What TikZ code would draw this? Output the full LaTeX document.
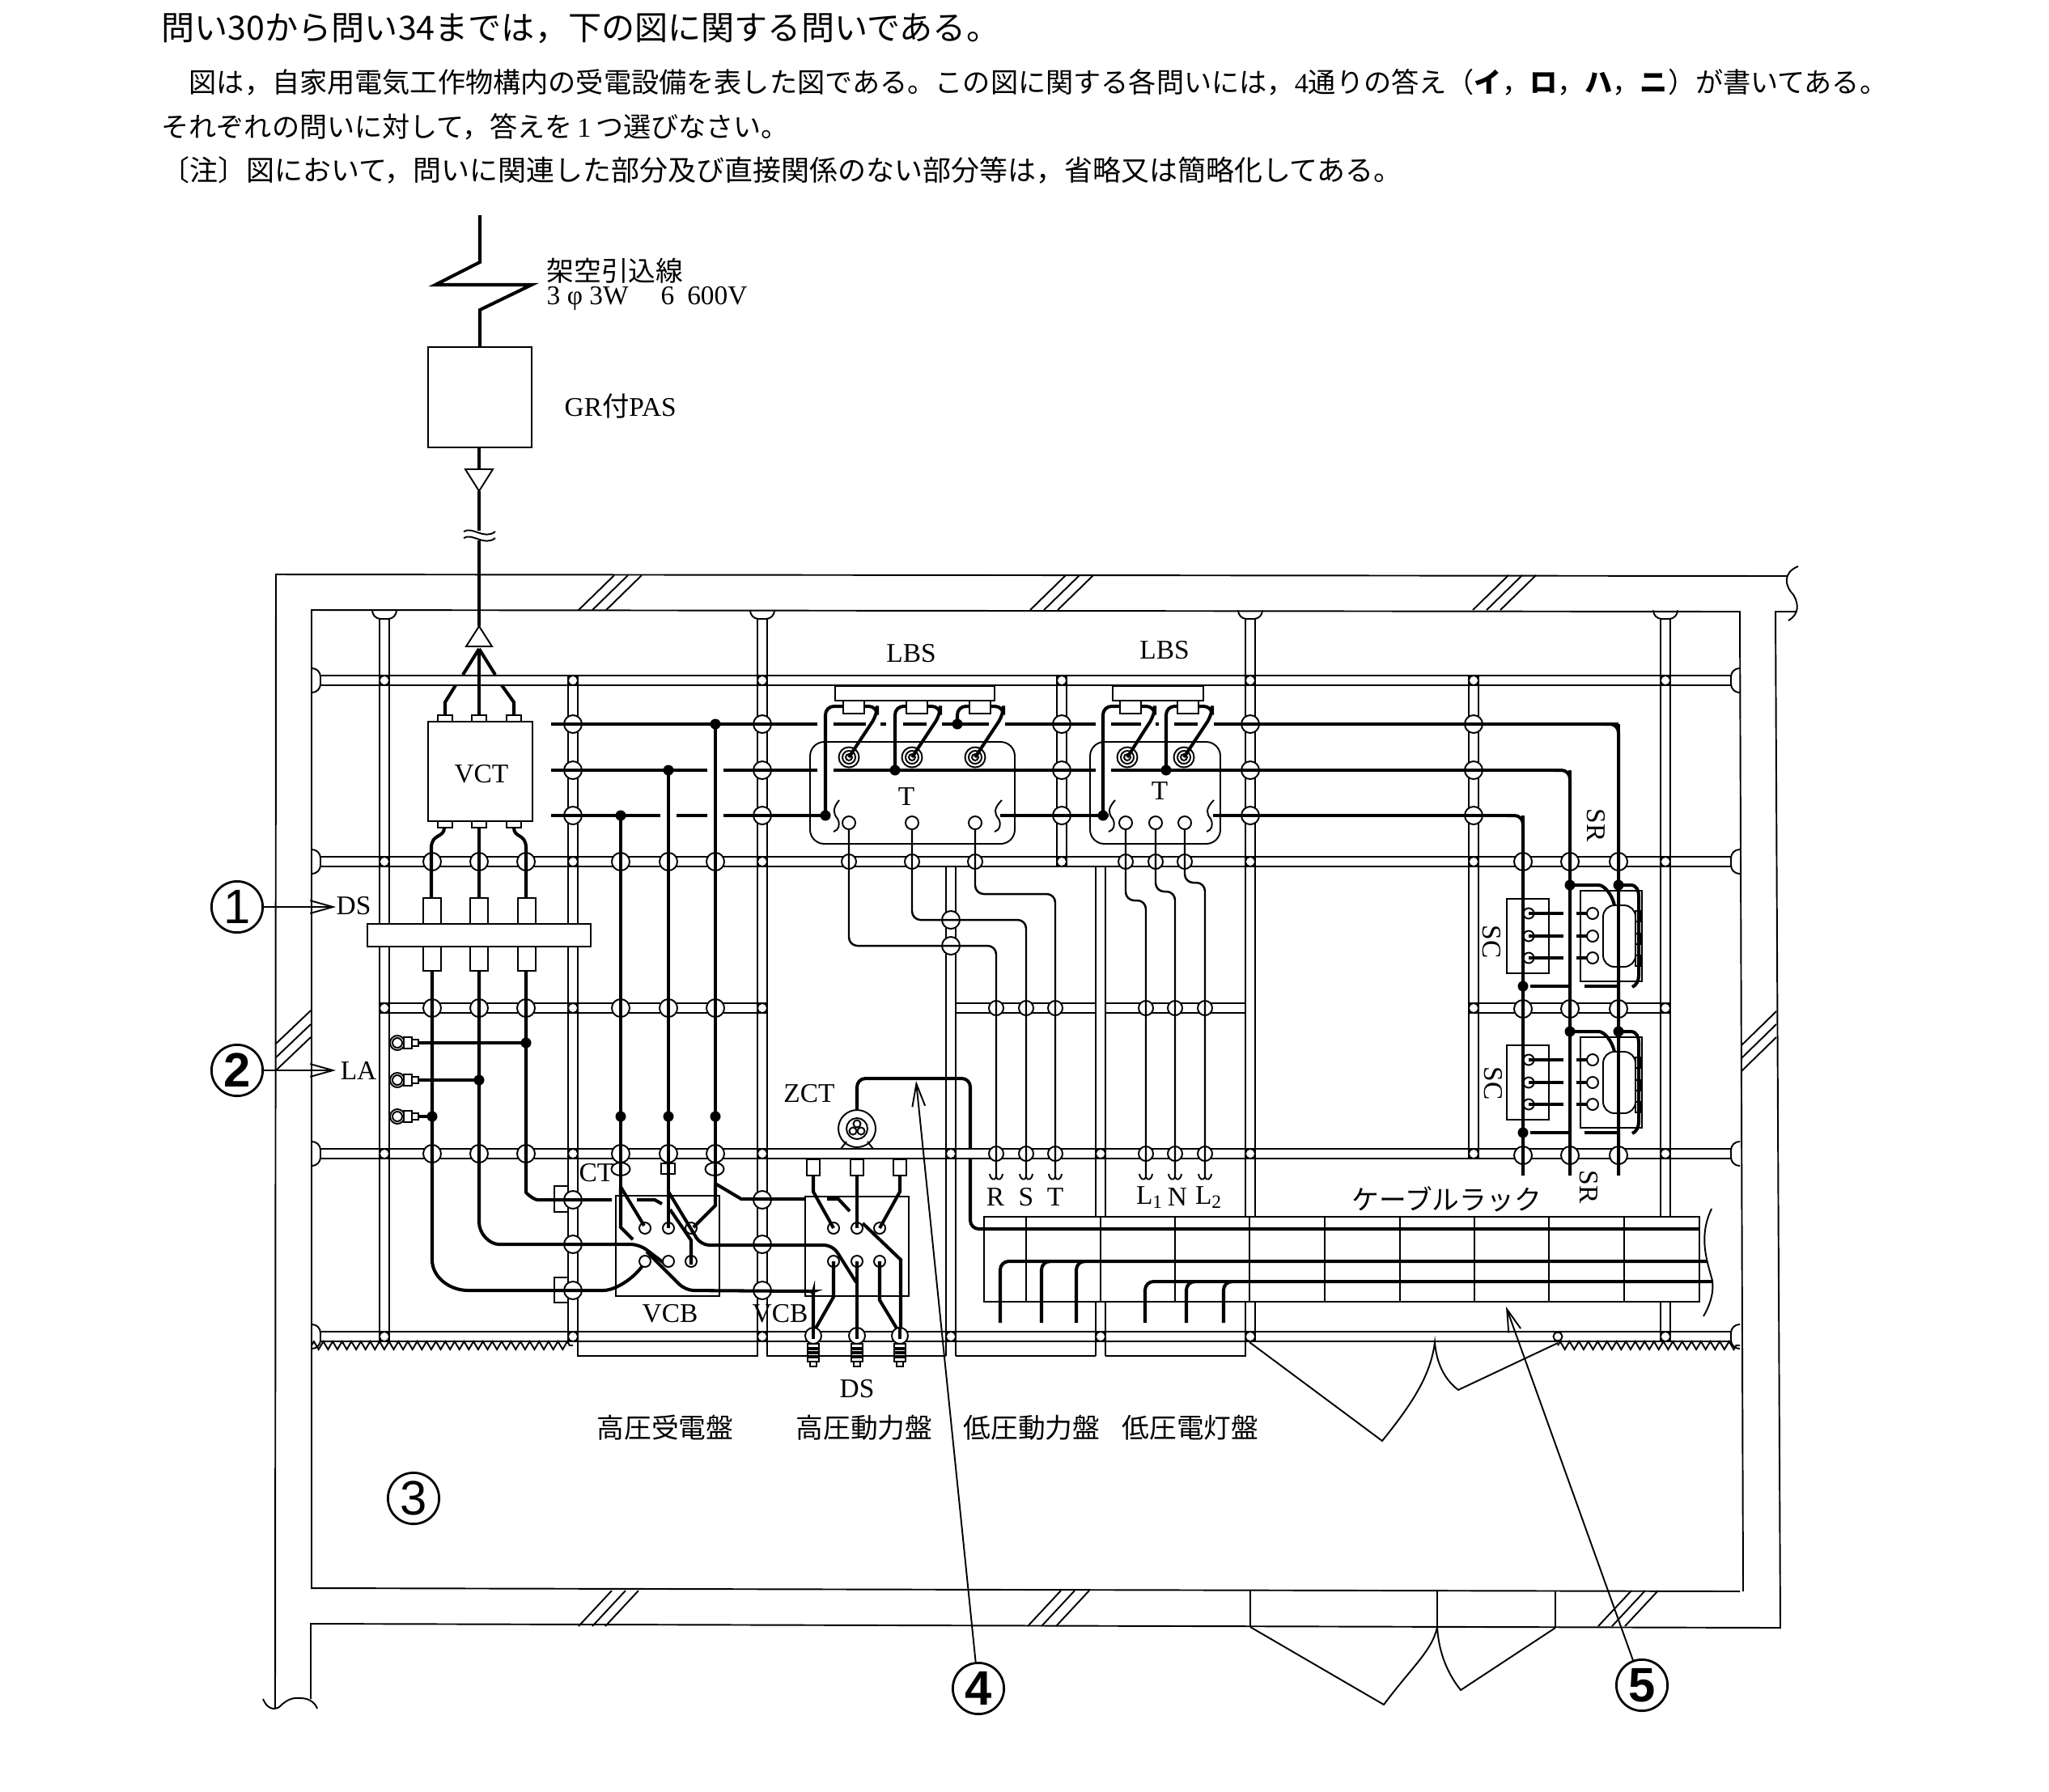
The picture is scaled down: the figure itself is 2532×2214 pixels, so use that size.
\documentclass[tikz,border=0pt]{standalone}
\usepackage{fontspec}
\setmainfont{Liberation Serif}
\newfontfamily\cjk{Noto Sans CJK JP}
\newfontfamily\numf{Liberation Sans}
\usetikzlibrary{arrows.meta,decorations.pathmorphing}
\tikzstyle{thinline}=[line width=.55pt]
\tikzstyle{pipe}=[line width=.55pt]
\tikzstyle{wire}=[line width=1.15pt]
\tikzstyle{rwire}=[wire,rounded corners=3pt]
\tikzstyle{lvwire}=[line width=.7pt,rounded corners=3pt]
\tikzstyle{cross}=[thinline,fill=white]
\tikzstyle{dev}=[thinline,fill=white]
\tikzstyle{lbl}=[inner sep=0pt,font=\fontsize{9.5}{11}\selectfont]
\tikzstyle{jp}=[inner sep=0pt,anchor=west,font=\cjk\fontsize{9.6}{11}\selectfont]
\tikzstyle{nummark}=[draw,circle,line width=.8pt,minimum size=18pt,inner sep=0pt,font=\numf\fontsize{17}{18}\selectfont]
\tikzstyle{leader}=[thinline,-{Straight Barb[length=8pt,width=4.5pt]}]
\newcommand{\hpipe}[3]{\draw[pipe] (#2,#1-6) -- (#3,#1-6) (#2,#1+6) -- (#3,#1+6);}
\newcommand{\vpipe}[3]{\draw[pipe] (#1-6,#2) -- (#1-6,#3) (#1+6,#2) -- (#1+6,#3);}
\newcommand{\sleeve}[2]{\fill (#1-6,#2-6) rectangle (#1+6,#2+6); \fill[white] (#1,#2) circle[radius=5];}
\newcommand{\junction}[2]{\fill (#1,#2) circle[radius=6.5];}
\newcommand{\pin}[2]{\draw[dev] (#1,#2) circle[radius=7];}
\begin{document}
\begin{tikzpicture}[x=.1mm,y=-.1mm]
\useasboundingbox (0,0) rectangle (2532,2214);

% header text
\node[jp,font=\cjk\fontsize{11.7}{13}\selectfont] (title) at (199,35) {問い30から問い34までは，下の図に関する問いである。};
\node[jp,font=\cjk\fontsize{9.72}{11}\selectfont] (lineone) at (233,102) {図は，自家用電気工作物構内の受電設備を表した図である。この図に関する各問いには，{\rmfamily 4}通りの答え（{\bfseries イ}，{\bfseries ロ}，{\bfseries ハ}，{\bfseries ニ}）が書いてある。};
\node[jp,font=\cjk\fontsize{9.7}{11}\selectfont] (linetwo) at (199,157) {それぞれの問いに対して，答えを\,{\rmfamily 1}\,つ選びなさい。};
\node[jp,font=\cjk\fontsize{9.95}{11}\selectfont] (linethree) at (199,210) {〔注〕図において，問いに関連した部分及び直接関係のない部分等は，省略又は簡略化してある。};

% walls
\draw[thinline] (340,2112) -- (341,710) -- (2208,712);
\draw[thinline] (2150,1967) -- (385,1963) -- (385,754) -- (2150,756) -- (2154,1967);
\draw[thinline] (2220,756) -- (2194,756) -- (2200,2012) -- (384,2007) -- (384,2100);
\draw[thinline] (2222,700) .. controls (2202,708) and (2206,725) .. (2216,735) .. controls (2224,748) and (2222,760) .. (2210,767); % break
\draw[thinline] (325,2100) .. controls (330,2112) and (338,2114) .. (345,2110) .. controls (355,2100) and (362,2098) .. (372,2099) .. controls (382,2099) and (390,2105) .. (392,2112);
\foreach \x in {715,732,749,1273,1290,1307,1820,1837,1854}{ % wall hatching
  \draw[thinline] (\x,754) -- (\x+44,711);
}
\foreach \y in {1290,1307,1323}{
  \draw[thinline] (341,\y) -- (384,\y-41);
}
\foreach \y in {1292,1308,1324}{
  \draw[thinline] (2152,\y) -- (2195,\y-42);
}
\foreach \x in {715,732,748,1270,1287,1305,1975,1992,2008}{
  \draw[thinline] (\x,2010) -- (\x+41,1966);
}

% doors
\draw[thinline] (1545,1966) -- (1545,2011) (1776,1966) -- (1776,2011) (1922,1967) -- (1922,2012);
\draw[thinline] (1545,2011) -- (1710,2107) .. controls (1745,2060) and (1770,2040) .. (1776,2011)
  .. controls (1778,2045) and (1790,2070) .. (1805,2089) -- (1922,2012);
\draw[thinline] (1544,1659) -- (1708,1781) .. controls (1745,1735) and (1768,1700) .. (1773,1659)
  .. controls (1775,1685) and (1785,1705) .. (1802,1718) -- (1925,1660);

% conduit rack
\foreach \y in {841,1065,1426,1652}{
  \hpipe{\y}{395}{2139}
  \foreach \x/\dir in {385/1,2150/-1}{
    \draw[thinline,rounded corners=3pt] (\x,\y-15) -- (\x+\dir*11,\y-15) -- (\x+\dir*11,\y+15) -- (\x,\y+15);
  }
}
\hpipe{1246}{469}{948}
\hpipe{1246}{1181}{1354}
\hpipe{1246}{1366}{1539}
\hpipe{1246}{1815}{2064}
\foreach \x in {475,942,1545,2058}{
  \vpipe{\x}{765}{1658}
  \draw[thinline,rounded corners=3pt] (\x-15,755) -- (\x-15,765) -- (\x+15,765) -- (\x+15,755);
}
\vpipe{708}{835}{1658}
\vpipe{1312}{835}{1071}
\vpipe{1821}{835}{1432}
\vpipe{1175}{1071}{1676}
\vpipe{1360}{1071}{1676}
\foreach \x in {475,708,942,1312,1545,1821,2058}{
  \sleeve{\x}{841}
  \sleeve{\x}{1065}
}
\foreach \x in {475,708,942,1821,2058}{
  \sleeve{\x}{1246}
}
\foreach \x in {475,708,942,1175,1360,1545,1821,2058}{
  \sleeve{\x}{1426}
}
\foreach \x in {475,708,942,1175,1360,1545,2058}{
  \sleeve{\x}{1652}
}
\draw[dev] (1925,1652) circle[radius=5.5];
\draw[thinline,decorate,decoration={zigzag,amplitude=1.4pt,segment length=3.3pt}] (385,1663) -- (708,1663);
\draw[thinline,decorate,decoration={zigzag,amplitude=1.4pt,segment length=3.3pt}] (1925,1663) -- (2150,1663);

% panel bases
\draw[thinline] (714,1658) -- (714,1676) -- (936,1676) -- (936,1658);
\draw[thinline] (948,1658) -- (948,1676) -- (1169,1676);
\draw[thinline] (1181,1676) -- (1354,1676) (1366,1676) -- (1539,1676) -- (1539,1658);
\draw[thinline] (685,1466) rectangle (702,1498) (685,1579) rectangle (702,1610);

% cable rack
\draw[thinline,fill=white] (1216,1504) rectangle (2100,1609);
\foreach \x in {1268,1360,1452,1544,1637,1730,1822,1914,2007}{
  \draw[thinline] (\x,1504) -- (\x,1609);
}
\draw[thinline] (2115,1494) .. controls (2098,1530) and (2110,1560) .. (2116,1583) .. controls (2118,1600) and (2112,1615) .. (2105,1627);

% wire crossings on the conduits
\foreach \x in {534,592,650,767,826,884}{
  \foreach \y in {1065,1246,1426}{
    \draw[cross] (\x,\y) circle[radius=11];
  }
}
\foreach \x in {708,942,1312,1545,1821}{
  \foreach \y in {895,952,1008}{
    \draw[cross] (\x,\y) circle[radius=11];
  }
}
\foreach \x in {708,942}{
  \foreach \y in {1483,1538,1595}{
    \draw[cross] (\x,\y) circle[radius=11];
  }
}
\foreach \x in {1882,1940,2000}{
  \foreach \y in {1065,1247,1428}{
    \draw[cross] (\x,\y) circle[radius=11];
  }
}
\foreach \x in {1049,1127,1205,1391,1428,1464}{
  \draw[cross] (\x,1065) circle[radius=9];
}
\foreach \x in {1231,1268,1304,1416,1452,1489}{
  \draw[cross] (\x,1246) circle[radius=9];
  \draw[cross] (\x,1426) circle[radius=9];
}
\draw[cross] (1175,1137) circle[radius=11];
\draw[cross] (1175,1169) circle[radius=11];

% incoming line and PAS
\draw[wire] (593,266) -- (593,324) -- (538,352) -- (657,352) -- (593,383) -- (593,429);
\draw[thinline] (529,429) rectangle (657,553);
\draw[wire] (592,553) -- (592,580);
\draw[dev] (575,580) -- (609,580) -- (592,607) -- cycle;
\draw[wire] (592,607) -- (592,656) (592,668) -- (592,774);
\draw[thinline] (573,657) .. controls (584,650) and (598,668) .. (612,657);
\draw[thinline] (573,665) .. controls (584,658) and (598,676) .. (612,665);
\draw[dev] (592,774) -- (608,799) -- (576,799) -- cycle;
\draw[wire] (592,802) -- (592,884);
\draw[wire] (592,802) -- (572,834) (563,847) -- (550,868) -- (550,884);
\draw[wire] (592,802) -- (612,834) (620,847) -- (635,868) -- (635,884);

% VCT
\draw[dev] (529,892) rectangle (658,1015);
\foreach \x in {550,592,635}{
  \draw[dev] (\x-9,884) rectangle (\x+9,892);
  \draw[dev] (\x-9,1015) rectangle (\x+9,1023);
}
\draw[wire] (549,1023) .. controls (549,1036) and (533,1030) .. (533,1048) -- (533,1110);
\draw[wire] (592,1023) -- (592,1110);
\draw[wire] (635,1023) .. controls (635,1036) and (650,1030) .. (650,1048) -- (650,1110);

% DS
\foreach \x in {534,592,651}{
  \draw[dev] (\x-11,1110) rectangle (\x+11,1200);
}
\draw[dev] (454,1142) rectangle (730,1170);

% LA
\foreach \y in {1289,1335,1380}{
  \draw[dev] (491,\y) circle[radius=9];
  \draw[thinline] (491,\y) circle[radius=6];
  \draw[dev] (499,\y-7) rectangle (509,\y+7);
  \draw[dev] (509,\y-4) rectangle (517,\y+4);
}
\draw[wire] (517,1289) -- (650,1289) (517,1335) -- (592,1335) (517,1380) -- (534,1380);
\junction{650}{1289}
\junction{592}{1335}
\junction{534}{1380}

% feeders to VCB
\draw[rwire] (534,1200) -- (534,1547) .. controls (534,1578) and (555,1595) .. (589,1595) -- (735,1595) .. controls (760,1595) and (785,1580) .. (797,1560);
\draw[rwire] (592,1200) -- (592,1500) .. controls (592,1525) and (605,1538) .. (627,1538) -- (790,1538) -- (823,1563);
\draw[rwire] (650,1200) -- (650,1463) .. controls (650,1475) and (660,1483) .. (675,1483) -- (756,1483);
\draw[wire] (787,1483) -- (809,1483) -- (818,1488);
\draw[wire] (767,1008) -- (767,1467);
\draw[wire] (826,952) -- (826,1473);
\draw[wire] (884,895) -- (884,1463);
\draw[wire] (681,895) -- (2000,895);
\foreach \x in {767,826,884}{
  \junction{\x}{1380}
}

% CT
\draw[dev] (767,1445) ellipse[x radius=11.5,y radius=8];
\draw[dev] (817,1438) rectangle (834,1451);
\draw[dev] (883,1445) ellipse[x radius=11.5,y radius=8];
\draw[wire] (767,1430) -- (767,1467) (826,1430) -- (826,1473) (884,1430) -- (884,1463);

% VCB
\draw[thinline] (761,1478) rectangle (889,1602);
\draw[thinline] (995,1479) rectangle (1123,1602);
\foreach \x in {797,826,854,1030,1059,1087}{
  \pin{\x}{1518}
  \pin{\x}{1559}
}
\draw[wire] (767,1467) -- (796,1515);
\draw[wire] (767,1467) -- (767,1517) -- (782,1532);
\draw[wire] (826,1470) -- (826,1518);
\draw[wire] (828,1495) -- (854,1533) -- (854,1563);
\draw[rwire] (826,1473) -- (866,1539) -- (1029,1539) -- (1058,1585);
\draw[wire] (884,1463) -- (884,1490) -- (857,1517);
\draw[wire] (884,1463) -- (916,1482) -- (995,1482);
\draw[wire] (1022,1482) -- (1036,1482) -- (1050,1497);
\draw[rwire] (799,1547) -- (847,1595) -- (995,1596) .. controls (1002,1596) and (1005,1600) .. (1005,1607) -- (1005,1650);

% ZCT with its feeders
\draw[dev] (1059,1395) circle[radius=23];
\draw[thinline] (1059,1395) circle[radius=13];
\foreach \x/\y in {1059/1389,1054/1398,1064/1398}{
  \draw[thinline] (\x,\y) circle[radius=4.5];
}
\draw[thinline] (1039,1420) -- (1046,1411) (1079,1420) -- (1072,1411);
\foreach \x in {1005,1059,1112}{
  \draw[dev] (\x-8,1433) rectangle (\x+8,1453);
}
\draw[rwire] (1059,1372) -- (1059,1333) -- (1199,1333) -- (1199,1420);
\draw[rwire] (1199,1432) -- (1199,1519) -- (2100,1519);
\draw[wire] (1005,1453) -- (1005,1473) -- (1030,1518);
\draw[wire] (1059,1453) -- (1059,1518);
\draw[wire] (1112,1453) -- (1112,1473) -- (1087,1518);
\draw[wire] (1066,1512) -- (1113,1557) -- (1113,1650);
\draw[wire] (1030,1559) -- (1030,1603) -- (1005,1647);
\draw[wire] (1059,1559) -- (1059,1650);
\draw[wire] (1087,1559) -- (1087,1607) -- (1113,1650);

% DS under the panel
\foreach \x in {1005,1059,1112}{
  \draw[dev] (\x,1651) circle[radius=10];
  \draw[dev] (\x-7,1661) rectangle (\x+7,1683);
  \draw[dev] (\x-4,1683) rectangle (\x+4,1689);
  \foreach \y in {1667,1672,1677}{
    \draw[wire] (\x-7,\y) -- (\x+7,\y);
  }
}
\draw[wire] (1005,1640) -- (1005,1655) (1059,1640) -- (1059,1655) (1112,1640) -- (1112,1655);

% transformers
\draw[thinline,rounded corners=5pt] (1001,917) rectangle (1254,1043);
\draw[thinline,rounded corners=5pt] (1347,917) rectangle (1508,1043);
\draw[dev] (1032,848) rectangle (1229,866);
\draw[dev] (1375,848) rectangle (1487,866);
\foreach \x in {1042,1120,1198,1384,1455}{
  \draw[dev] (\x,866) rectangle (\x+26,882);
}
\foreach \x in {1049,1127,1205,1393,1463}{
  \draw[dev] (\x,936) circle[radius=12.5];
  \draw[thinline] (\x,936) circle[radius=8];
  \draw[thinline] (\x,936) circle[radius=4];
}
\foreach \x in {1049,1127,1205,1391,1428,1464}{
  \draw[thinline] (\x,1024) -- (\x,1065);
  \draw[thinline,fill=white] (\x,1017) circle[radius=8];
}
\foreach \x/\xb in {1037/1030,1238/1229,1378/1370,1500/1491}{ % bus break marks
  \draw[thinline] (\x,989) .. controls (\xb-2,1000) and (\xb,1006) .. (\xb+5,1012) .. controls (\xb+9,1020) and (\xb+6,1026) .. (\xb,1028);
}

% three-phase bus: white gaps over the full line drawn above
\foreach \a/\b in {1010/1030,1070/1088,1095/1116,1145/1164,1222/1242,1354/1373,1410/1428,1432/1451,1480/1500}{
  \fill[white] (\a,891) rectangle (\b,899);
}
\draw[wire] (681,952) -- (874,952) (894,952) -- (1010,952) (1030,952) -- (1354,952) (1373,952) -- (1930,952);
\draw[wire] (681,1008) -- (816,1008) (836,1008) -- (874,1008) (894,1008) -- (1026,1008) (1236,1008) -- (1370,1008) (1499,1008) -- (1872,1008);
\draw[rwire] (1920,952) -- (1940,952) -- (1940,1453);
\draw[rwire] (1862,1008) -- (1882,1008) -- (1882,1453);
\draw[rwire] (1980,895) -- (2000,895) -- (2000,1453);
\foreach \x/\y in {884/895,826/952,767/1008,1106/952,1183/895,1020/1008,1363/1008,1441/952}{
  \junction{\x}{\y}
}

% LBS connections
\foreach \xa/\xb/\yb in {1020/1042/1008,1106/1120/952,1183/1198/895,1363/1384/1008,1441/1455/952}{
  \draw[rwire] (\xa,\yb) -- (\xa,873) -- (\xb,873);
}
\foreach \xc/\xd in {1067/1049,1145/1127,1223/1205,1410/1393,1481/1463}{
  \draw[rwire] (\xc,873) -- (\xc+17,873) -- (\xc+17,883) -- (\xd,936);
}

% low voltage lines
\foreach \x/\ya/\xb in {1049/1169/1231,1127/1137/1268,1205/1105/1304,1391/1113/1416,1428/1102/1452,1464/1091/1489}{
  \draw[lvwire] (\x,1025) -- (\x,\ya) -- (\xb,\ya) -- (\xb,1455);
  \draw[thinline] (\xb-8,1451) .. controls (\xb-7,1458) and (\xb-2,1460) .. (\xb,1455) .. controls (\xb+2,1460) and (\xb+7,1458) .. (\xb+8,1451);
}

% SC and SR
\foreach \dy in {0,181}{
  \draw[thinline] (1862,1111+\dy) rectangle (1914,1203+\dy);
  \draw[thinline] (1953,1101+\dy) rectangle (2029,1213+\dy);
  \draw[dev,rounded corners=4pt] (1981,1119+\dy) rectangle (2021,1195+\dy);
  \foreach \y in {1129,1157,1184}{
    \draw[dev] (1889,\y+\dy) circle[radius=6.5];
    \draw[wire] (1889,\y+\dy) -- (1932,\y+\dy);
    \draw[wire] (1948,\y+\dy) -- (1963,\y+\dy);
    \draw[dev] (1968,\y+\dy) circle[radius=7];
    \draw[dev] (2021,\y-3+\dy) rectangle (2027,\y+10+\dy);
  }
  \draw[rwire] (1940,1094+\dy) -- (1965,1094+\dy) .. controls (1982,1094+\dy) and (1992,1105+\dy) .. (1995,1119+\dy);
  \draw[wire] (1891,1219+\dy) -- (1940,1219+\dy) (1958,1219+\dy) -- (2000,1219+\dy);
  \draw[wire] (2000,1094+\dy) -- (2015,1094+\dy) .. controls (2022,1094+\dy) and (2025,1100+\dy) .. (2025,1108+\dy) -- (2025,1206+\dy) .. controls (2025,1212+\dy) and (2022,1218+\dy) .. (2017,1220+\dy);
  \fill (1882,1219+\dy) circle[radius=6.5];
  \fill (1940,1094+\dy) circle[radius=6.5];
  \fill (2000,1094+\dy) circle[radius=6.5];
}
\draw[wire] (2000,895) -- (2000,1453) (1940,952) -- (1940,1453) (1882,1008) -- (1882,1453);

% cables in the rack
\draw[rwire] (1236,1635) -- (1236,1559) -- (2110,1559);
\draw[rwire] (1415,1635) -- (1415,1584) -- (2116,1584);
\foreach \x/\y in {1287/1559,1330/1559,1466/1584,1512/1584}{
  \draw[rwire] (\x,1635) -- (\x,\y) -- (\x+5,\y);
}

% labels
\node[jp] (incoming) at (675,335) {架空引込線};
\node[lbl,anchor=west] (supply) at (675,369) {3 φ 3W\hspace{4mm}6\hspace{1.6mm}600V};
\node[lbl,anchor=west] (pas) at (697,502) {GR{\cjk 付}PAS};
\node[lbl] (vct) at (595,957) {VCT};
\node[lbl] (lbsa) at (1126,808) {LBS};
\node[lbl] (lbsb) at (1439,804) {LBS};
\node[lbl] (ta) at (1120,985) {T};
\node[lbl] (tb) at (1433,978) {T};
\node[lbl] (ds) at (437,1120) {DS};
\node[lbl] (la) at (443,1323) {LA};
\node[lbl] (ct) at (737,1450) {CT};
\node[lbl] (zct) at (1000,1352) {ZCT};
\node[lbl] (vcba) at (828,1624) {VCB};
\node[lbl] (vcbb) at (964,1624) {VCB};
\node[lbl] (dsb) at (1059,1717) {DS};
\node[lbl] (r) at (1230,1480) {R};
\node[lbl] (s) at (1268,1480) {S};
\node[lbl] (t) at (1304,1480) {T};
\node[lbl] (lone) at (1421,1480) {L\textsubscript{1}};
\node[lbl] (n) at (1455,1480) {N};
\node[lbl] (ltwo) at (1494,1480) {L\textsubscript{2}};
\node[lbl,rotate=-90] (sca) at (1843,1164) {SC};
\node[lbl,rotate=-90] (scb) at (1845,1339) {SC};
\node[lbl,rotate=-90] (sra) at (1972,1020) {SR};
\node[lbl,rotate=-90] (srb) at (1963,1467) {SR};
\node[jp] (rack) at (1670,1482) {ケーブルラック};
\node[jp] (hvrecv) at (737,1765) {高圧受電盤};
\node[jp] (hvpower) at (983,1765) {高圧動力盤};
\node[jp] (lvpower) at (1190,1765) {低圧動力盤};
\node[jp] (lvlight) at (1386,1765) {低圧電灯盤};

% numbered marks
\node[nummark] (one) at (293,1121) {1};
\node[nummark] (two) at (293,1323) {\bfseries 2};
\node[nummark] (three) at (511,1852) {3};
\node[nummark] (four) at (1209,2087) {\bfseries 4};
\node[nummark] (five) at (2029,2083) {\bfseries 5};
\coordinate (tipds) at (415,1121);
\coordinate (tipla) at (415,1323);
\coordinate (tipzct) at (1132,1336);
\coordinate (tiprack) at (1861,1615);
\draw[leader] (one) -- (tipds);
\draw[leader] (two) -- (tipla);
\draw[leader] (four) -- (tipzct);
\draw[leader] (five) -- (tiprack);

\end{tikzpicture}
\end{document}
